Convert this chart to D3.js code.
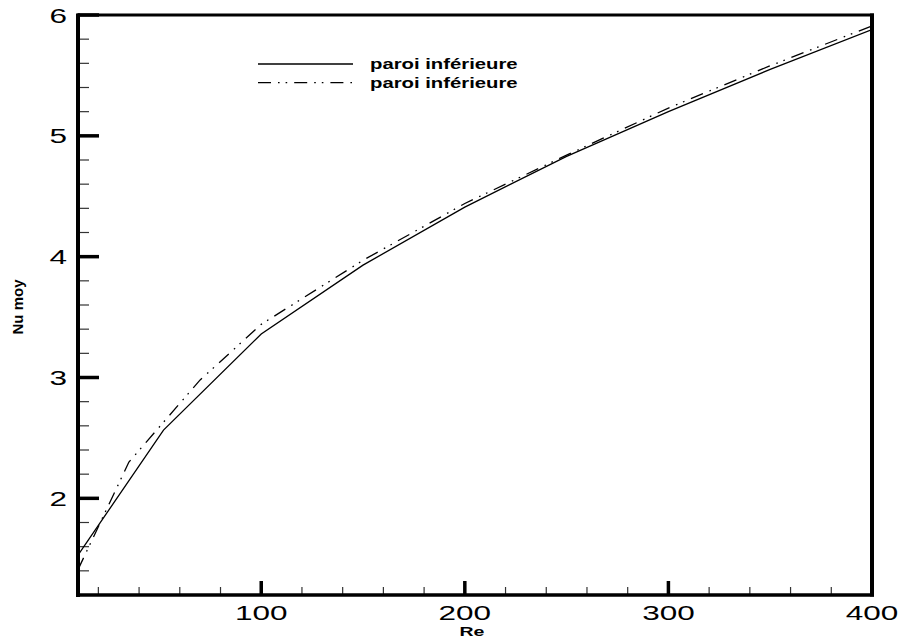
<!DOCTYPE html>
<html>
<head>
<meta charset="utf-8">
<script src="https://cdn.jsdelivr.net/npm/d3@7"></script>
<style>
  html, body { margin: 0; padding: 0; background: #fff; }
  svg { display: block; }
  text { font-family: "Liberation Sans", Arial, Helvetica, sans-serif; fill: #000; }
</style>
</head>
<body>
<svg id="chart" width="898" height="641"></svg>
<script>
// ---- data ----
const reSolid   = [10, 52, 100, 150, 200, 250, 300, 350, 400];
const nuSolid   = [1.53, 2.565, 3.36, 3.93, 4.41, 4.83, 5.20, 5.55, 5.88];
const reDash    = [10, 35, 70, 100, 150, 200, 250, 300, 350, 400];
const nuDash    = [1.41, 2.30, 2.98, 3.44, 3.97, 4.44, 4.84, 5.23, 5.58, 5.91];
const seriesNames = ["paroi inférieure", "paroi inférieure"];
const xMajorTicks = [100, 200, 300, 400];
const xMinorTicks = [20, 40, 60, 80, 120, 140, 160, 180, 220, 240, 260, 280, 320, 340, 360, 380];
const yMajorTicks = [2, 3, 4, 5, 6];
const yMinorTicks = [1.4, 1.6, 1.8, 2.2, 2.4, 2.6, 2.8, 3.2, 3.4, 3.6, 3.8, 4.2, 4.4, 4.6, 4.8, 5.2, 5.4, 5.6, 5.8];
const xTitle = "Re";
const yTitle = "Nu moy";

// ---- layout ----
const L = 78, R = 872, T = 15, B = 595;
const SX = 1.5; // horizontal text stretch of the original figure

const svg = d3.select("#chart");
const x = d3.scaleLinear().domain([10, 400]).range([L, R]);
const y = d3.scaleLinear().domain([1.2, 6]).range([B, T]);

// frame
svg.append("line").attr("x1", L - 1).attr("x2", R + 2).attr("y1", T).attr("y2", T)
  .attr("stroke", "#000").attr("stroke-width", 3);
svg.append("line").attr("x1", R).attr("x2", R).attr("y1", T - 1.5).attr("y2", B + 1.5)
  .attr("stroke", "#000").attr("stroke-width", 4);

// ticks on left axis (inward)
const gy = svg.append("g");
gy.selectAll("line.minor").data(yMinorTicks).join("line")
  .attr("x1", L).attr("x2", L + 11).attr("y1", d => y(d)).attr("y2", d => y(d))
  .attr("stroke", "#333").attr("stroke-width", 1.2);
gy.selectAll("line.major").data(yMajorTicks).join("line")
  .attr("x1", L).attr("x2", L + 21).attr("y1", d => y(d)).attr("y2", d => y(d))
  .attr("stroke", "#000").attr("stroke-width", 3.5);
gy.selectAll("text").data(yMajorTicks).join("text")
  .attr("transform", d => `translate(67,${y(d) + 7.5}) scale(${SX},1)`)
  .attr("text-anchor", "end").attr("font-size", 21)
  .text(d => d);

// ticks on bottom axis (inward)
const gx = svg.append("g");
gx.selectAll("line.minor").data(xMinorTicks).join("line")
  .attr("x1", d => x(d)).attr("x2", d => x(d)).attr("y1", B).attr("y2", B - 8)
  .attr("stroke", "#333").attr("stroke-width", 1.2);
gx.selectAll("line.major").data(xMajorTicks).join("line")
  .attr("x1", d => x(d)).attr("x2", d => x(d)).attr("y1", B).attr("y2", B - 14)
  .attr("stroke", "#000").attr("stroke-width", 3.5);
gx.selectAll("text").data(xMajorTicks).join("text")
  .attr("transform", d => `translate(${x(d)},620) scale(${SX},1)`)
  .attr("text-anchor", "middle").attr("font-size", 21)
  .text(d => d);

// axis lines
svg.append("line").attr("x1", L).attr("x2", L).attr("y1", T - 1.5).attr("y2", B + 2)
  .attr("stroke", "#000").attr("stroke-width", 4);
svg.append("line").attr("x1", L - 2).attr("x2", R + 2).attr("y1", B).attr("y2", B)
  .attr("stroke", "#000").attr("stroke-width", 3.5);

// titles
svg.append("text")
  .attr("transform", `translate(472,636) scale(${SX},1)`)
  .attr("text-anchor", "middle").attr("font-size", 13).attr("font-weight", "bold")
  .text(xTitle);
svg.append("text")
  .attr("transform", `translate(23,307) rotate(-90)`)
  .attr("text-anchor", "middle").attr("font-size", 15).attr("font-weight", "bold")
  .text(yTitle);

// curves
const line = d3.line().x(d => x(d[0])).y(d => y(d[1]));
const solidData = reSolid.map((r, i) => [r, nuSolid[i]]);
const dashData = reDash.map((r, i) => [r, nuDash[i]]);
const DASH = "13,7,1.6,6,1.6,7";

const clip = svg.append("clipPath").attr("id", "plotclip")
  .append("rect").attr("x", L).attr("y", T).attr("width", R - L).attr("height", B - T);

svg.append("path").datum(solidData).attr("d", line)
  .attr("fill", "none").attr("stroke", "#000").attr("stroke-width", 1.3)
  .attr("clip-path", "url(#plotclip)");
svg.append("path").datum(dashData).attr("d", line)
  .attr("fill", "none").attr("stroke", "#000").attr("stroke-width", 1.3)
  .attr("stroke-dasharray", DASH)
  .attr("clip-path", "url(#plotclip)");

// legend
const legY = [64, 82.7];
const lg = svg.append("g");
lg.selectAll("line").data(seriesNames).join("line")
  .attr("x1", 258).attr("x2", 353)
  .attr("y1", (d, i) => legY[i]).attr("y2", (d, i) => legY[i])
  .attr("stroke", "#000").attr("stroke-width", 1.3)
  .attr("stroke-dasharray", (d, i) => i === 0 ? null : DASH);
lg.selectAll("text").data(seriesNames).join("text")
  .attr("transform", (d, i) => `translate(370,${legY[i] + 4.8}) scale(1.45,1)`)
  .attr("font-size", 14).attr("font-weight", "bold")
  .text(d => d);
</script>
</body>
</html>
